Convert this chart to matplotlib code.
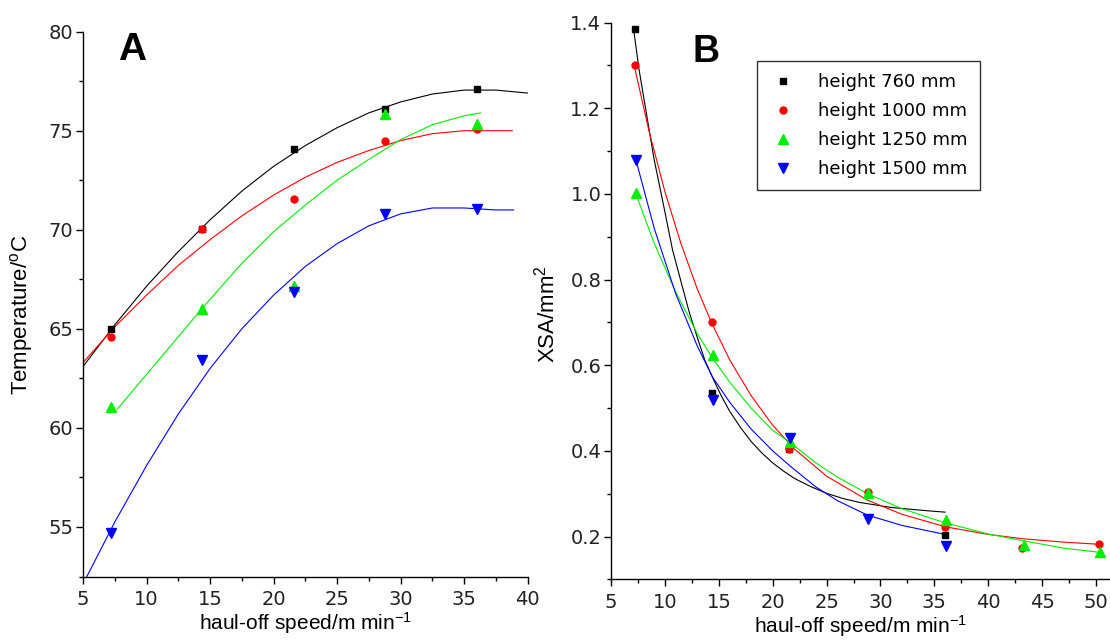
import numpy as np
import matplotlib.pyplot as plt
from matplotlib.ticker import MultipleLocator

plt.rcParams['font.family'] = ['DejaVu Sans']

# ---------------- Panel A: temperature vs haul-off speed ----------------
a_speed = [7.2, 14.4, 21.6, 28.8, 36.0]
a_t760 = [65.0, 70.05, 74.1, 76.1, 77.1]
a_t1000 = [64.6, 70.05, 71.55, 74.5, 75.1]
a_t1250 = [61.05, 66.0, 67.15, 75.85, 75.35]
a_t1500 = [54.7, 63.45, 66.85, 70.8, 71.05]

# fitted curves
a_fit760_x = [5, 7.5, 10, 12.5, 15, 17.5, 20, 22.5, 25, 27.5, 30, 32.5, 35, 37.5, 40]
a_fit760_y = [63.1, 65.2, 67.15, 68.9, 70.5, 71.95, 73.2, 74.25, 75.15, 75.9, 76.45, 76.85, 77.05, 77.05, 76.9]
a_fit1000_x = [5, 7.5, 10, 12.5, 15, 17.5, 20, 22.5, 25, 27.5, 30, 32.5, 35, 37.5, 38.8]
a_fit1000_y = [63.3, 65.1, 66.7, 68.2, 69.5, 70.7, 71.75, 72.65, 73.4, 74.0, 74.5, 74.85, 75.0, 75.0, 75.0]
a_fit1250_x = [7.7, 10, 12.5, 14.4, 17.5, 20, 22.5, 25, 27.5, 30, 32.5, 35, 36.3]
a_fit1250_y = [60.95, 62.7, 64.6, 66.05, 68.3, 69.9, 71.25, 72.5, 73.55, 74.55, 75.3, 75.75, 75.9]
a_fit1500_x = [5.3, 7.5, 10, 12.5, 15, 17.5, 20, 22.5, 25, 27.5, 30, 32.5, 35, 37.5, 38.9]
a_fit1500_y = [52.5, 55.25, 58.1, 60.7, 63.0, 65.0, 66.7, 68.15, 69.3, 70.2, 70.8, 71.1, 71.1, 71.0, 71.0]

# ---------------- Panel B: XSA vs haul-off speed ----------------
b_speed760 = [7.2, 14.35, 21.55, 36.0]
b_xsa760 = [1.384, 0.535, 0.404, 0.203]
b_speed1000 = [7.2, 14.35, 21.55, 28.8, 36.0, 43.1, 50.3]
b_xsa1000 = [1.302, 0.702, 0.404, 0.303, 0.222, 0.174, 0.183]
b_speed1250 = [7.3, 14.45, 21.65, 28.85, 36.1, 43.3, 50.4]
b_xsa1250 = [1.001, 0.623, 0.42, 0.302, 0.238, 0.181, 0.163]
b_speed1500 = [7.3, 14.45, 21.65, 28.85, 36.1]
b_xsa1500 = [1.08, 0.52, 0.43, 0.24, 0.179]

b_fit760_x = [7.1, 7.6, 8.2, 9.0, 9.9, 10.7, 11.6, 12.3, 13.0, 13.7, 14.5, 15.2, 16.0,
              17.0, 18.0, 19.0, 20.0, 21.0, 22.0, 23.5, 25.0, 26.5, 28.0, 31.0, 34.0, 36.0]
b_fit760_y = [1.383, 1.29, 1.2, 1.08, 0.97, 0.87, 0.785, 0.72, 0.665, 0.612, 0.567, 0.53, 0.493,
              0.455, 0.422, 0.395, 0.372, 0.353, 0.336, 0.317, 0.301, 0.289, 0.280, 0.268, 0.261, 0.257]
b_fit1000_x = [7.1, 8.5, 10, 11.5, 13, 14.35, 16, 18, 20, 22, 25, 28.8, 32, 36, 40, 43.2, 47, 50.3]
b_fit1000_y = [1.305, 1.149, 1.005, 0.883, 0.778, 0.698, 0.613, 0.529, 0.46, 0.405, 0.341, 0.285,
               0.252, 0.223, 0.205, 0.195, 0.187, 0.182]
b_fit1250_x = [7.3, 9, 11, 13, 14.45, 16, 18, 20, 21.6, 24, 26, 28.8, 32, 36, 40, 43.3, 47, 50.4]
b_fit1250_y = [1.0, 0.885, 0.771, 0.674, 0.615, 0.561, 0.50, 0.448, 0.42, 0.372, 0.339, 0.30,
               0.265, 0.232, 0.206, 0.19, 0.173, 0.163]
b_fit1500_x = [7.3, 9, 11, 13, 14.4, 16, 18, 20, 21.6, 24, 26, 28.8, 32, 36]
b_fit1500_y = [1.08, 0.92, 0.767, 0.645, 0.573, 0.514, 0.451, 0.40, 0.365, 0.316, 0.284, 0.25,
               0.226, 0.205]

labels = ['height 760 mm', 'height 1000 mm', 'height 1250 mm', 'height 1500 mm']
colors = ['black', '#ff0000', '#00ee00', '#0000ff']
markers = ['s', 'o', '^', 'v']
msizes = [5, 5, 7, 7]

fig = plt.figure(figsize=(11.1, 6.43), dpi=100)
axA = fig.add_axes([0.0748, 0.1034, 0.4005, 0.8474])
axB = fig.add_axes([0.5505, 0.0989, 0.4495, 0.8660])

ylabel_font = dict(fontsize=16, family=['Liberation Sans', 'DejaVu Sans'])
xlabel_font = dict(fontsize=15, family=['Liberation Sans', 'DejaVu Sans'])


def style_axes(ax):
    for side in ['top', 'right']:
        ax.spines[side].set_visible(False)
    for side in ['left', 'bottom']:
        ax.spines[side].set_linewidth(1.0)
    ax.tick_params(which='major', direction='out', length=5, width=1.0,
                   labelsize=14, labelcolor='#222222')
    ax.tick_params(which='minor', direction='out', length=3, width=1.0)
    ax.tick_params(axis='x', pad=5)
    ax.tick_params(axis='y', pad=2)


# Panel A
a_series = [a_t760, a_t1000, a_t1250, a_t1500]
a_fits = [(a_fit760_x, a_fit760_y), (a_fit1000_x, a_fit1000_y),
          (a_fit1250_x, a_fit1250_y), (a_fit1500_x, a_fit1500_y)]
for (fx, fy), c in zip(a_fits, colors):
    axA.plot(fx, fy, '-', color=c, lw=0.8)
for ys, c, m, ms in zip(a_series, colors, markers, msizes):
    axA.plot(a_speed, ys, m, color=c, ms=ms, ls='none')

axA.set_xlim(5, 40)
axA.set_ylim(52.5, 80)
axA.xaxis.set_major_locator(MultipleLocator(5))
axA.xaxis.set_minor_locator(MultipleLocator(2.5))
axA.yaxis.set_major_locator(MultipleLocator(5))
axA.yaxis.set_minor_locator(MultipleLocator(2.5))
style_axes(axA)
axA.set_ylabel('Temperature/$\\mathregular{^{o}}$C', **ylabel_font)
axA.set_xlabel('haul-off speed/m min$\\mathregular{^{-1}}$', **xlabel_font)
axA.yaxis.set_label_coords(-0.108, 0.48)
axA.xaxis.set_label_coords(0.5, -0.062)
axA.text(0.11, 0.966, 'A', transform=axA.transAxes, fontsize=28,
         fontweight='bold', ha='center', va='center',
         family=['Liberation Sans', 'DejaVu Sans'])

# Panel B
b_series = [(b_speed760, b_xsa760), (b_speed1000, b_xsa1000),
            (b_speed1250, b_xsa1250), (b_speed1500, b_xsa1500)]
b_fits = [(b_fit760_x, b_fit760_y), (b_fit1000_x, b_fit1000_y),
          (b_fit1250_x, b_fit1250_y), (b_fit1500_x, b_fit1500_y)]
for (fx, fy), c in zip(b_fits, colors):
    axB.plot(fx, fy, '-', color=c, lw=0.8)
handles = []
for (xs, ys), c, m, ms, lab in zip(b_series, colors, markers, msizes, labels):
    h, = axB.plot(xs, ys, m, color=c, ms=ms, ls='none', label=lab)
    handles.append(h)

axB.set_xlim(5, 51.3)
axB.set_ylim(0.1, 1.4)
axB.xaxis.set_major_locator(MultipleLocator(5))
axB.xaxis.set_minor_locator(MultipleLocator(2.5))
axB.yaxis.set_major_locator(MultipleLocator(0.2))
axB.yaxis.set_minor_locator(MultipleLocator(0.1))
axB.yaxis.set_major_formatter(plt.FuncFormatter(lambda v, p: f'{v:.1f}'))
style_axes(axB)
axB.set_ylabel('XSA/mm$\\mathregular{^{2}}$', **ylabel_font)
axB.set_xlabel('haul-off speed/m min$\\mathregular{^{-1}}$', **xlabel_font)
axB.yaxis.set_label_coords(-0.104, 0.477)
axB.xaxis.set_label_coords(0.5, -0.061)
axB.text(0.19, 0.948, 'B', transform=axB.transAxes, fontsize=27,
         fontweight='bold', ha='center', va='center',
         family=['Liberation Sans', 'DejaVu Sans'])

leg = axB.legend(handles=handles, loc='upper left',
                 bbox_to_anchor=(0.6817, 0.9056), bbox_transform=fig.transFigure,
                 borderaxespad=0, fontsize=13, frameon=True, fancybox=False,
                 edgecolor='black', handletextpad=1.2, handlelength=1.5,
                 labelspacing=0.6, borderpad=0.7)
leg.get_frame().set_linewidth(1.0)

fig.savefig('out.png', dpi=100)
